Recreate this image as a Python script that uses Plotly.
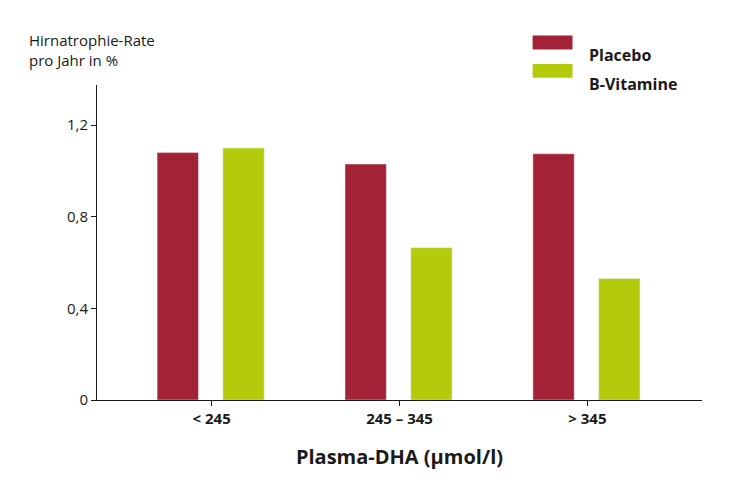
import plotly.graph_objects as go

red = "#A42236"
green = "#B3CB0B"
black = "#1a1a1a"

categories = ["< 245", "245 – 345", "> 345"]
placebo = [1.08, 1.03, 1.075]
vitamine = [1.10, 0.665, 0.53]
ytick_vals = [0, 0.4, 0.8, 1.2]
ytick_text = ["0", "0,4", "0,8", "1,2"]

fig = go.Figure()
fig.add_trace(go.Bar(x=categories, y=placebo, name="Placebo", marker_color=red,
                     width=0.22, offset=-0.29))
fig.add_trace(go.Bar(x=categories, y=vitamine, name="B-Vitamine", marker_color=green,
                     width=0.22, offset=0.06))

fig.update_layout(
    width=750, height=500,
    font=dict(family="Open Sans", size=15, color=black),
    plot_bgcolor="white", paper_bgcolor="white",
    margin=dict(l=89, r=56, t=77, b=108),
    showlegend=False,
)
fig.update_xaxes(range=[-0.61, 2.61], showline=True, linecolor=black, linewidth=1,
                 ticks="outside", ticklen=5, tickcolor=black,
                 tickmode="array", tickvals=categories,
                 ticktext=["<b>" + c + "</b>" for c in categories],
                 tickfont=dict(size=15),
                 title=dict(text="<b>Plasma-DHA (µmol/l)</b>", font=dict(size=20), standoff=22))
fig.update_yaxes(range=[0, 1.375], showline=True, linecolor=black, linewidth=1,
                 showgrid=False, zeroline=False, ticks="outside", ticklen=5, tickcolor=black,
                 tickmode="array", tickvals=ytick_vals, ticktext=ytick_text,
                 tickfont=dict(size=15))

# y axis title
fig.add_annotation(xref="paper", yref="paper", x=-0.115, y=1.04, xanchor="left", yanchor="bottom",
                   text="Hirnatrophie-Rate<br>pro Jahr in %", showarrow=False, align="left",
                   font=dict(size=15))

# legend drawn by hand (wide swatches)
for i, (name, col) in enumerate([("Placebo", red), ("B-Vitamine", green)]):
    yc = 1.135 - i * 0.09
    fig.add_shape(type="rect", xref="paper", yref="paper",
                  x0=0.72, x1=0.786, y0=yc - 0.022, y1=yc + 0.022,
                  fillcolor=col, line_width=0)
    fig.add_annotation(xref="paper", yref="paper", x=0.81, y=yc, xanchor="left",
                       text="<b>" + name + "</b>", showarrow=False, font=dict(size=16))

fig.write_html("out.html")
